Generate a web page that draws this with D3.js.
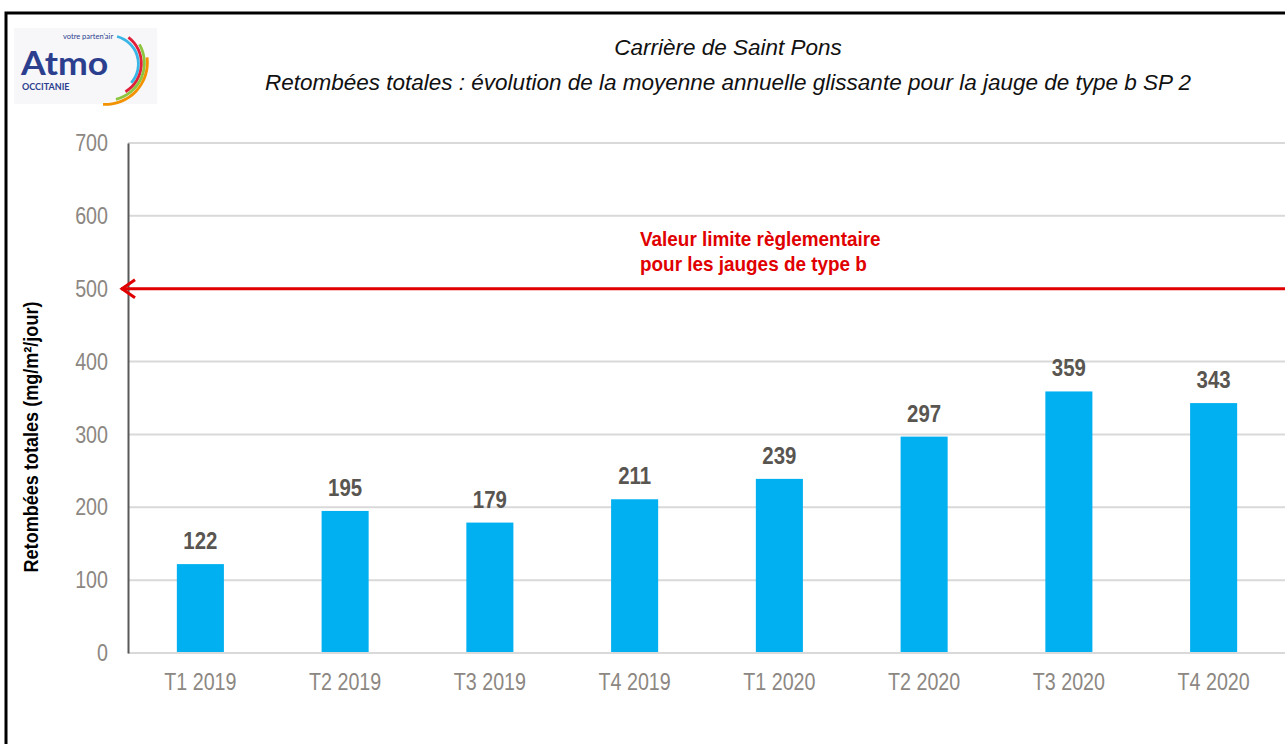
<!DOCTYPE html>
<html>
<head>
<meta charset="utf-8">
<script src="https://cdn.jsdelivr.net/npm/d3@7"></script>
<style>
  body { margin: 0; background: #fff; }
  svg { display: block; }
</style>
</head>
<body>
<svg id="chart"></svg>
<script>
// Retombées totales - bar chart with regulatory limit
const categories = ['T1 2019', 'T2 2019', 'T3 2019', 'T4 2019', 'T1 2020', 'T2 2020', 'T3 2020', 'T4 2020'];
const values = [122, 195, 179, 211, 239, 297, 359, 343];
const yTicks = [0, 100, 200, 300, 400, 500, 600, 700];
const limitValue = 500;
const titleLines = ['Carrière de Saint Pons',
  'Retombées totales : évolution de la moyenne annuelle glissante pour la jauge de type b SP 2'];
const limitLabel = ['Valeur limite règlementaire', 'pour les jauges de type b'];

const W = 1285, H = 744;
const margin = { top: 143, right: -1, bottom: 91, left: 128 };
const width = W - margin.left - margin.right;
const height = H - margin.top - margin.bottom;
const sans = '"Liberation Sans", Arial, sans-serif';

// squeeze text horizontally to mimic Arial Narrow
function narrow(sel, ratio) {
  sel.each(function () {
    const len = this.getComputedTextLength();
    d3.select(this).attr('textLength', len * ratio).attr('lengthAdjust', 'spacingAndGlyphs');
  });
}

const root = d3.select('#chart').attr('width', W).attr('height', H);

// outer frame
root.append('rect')
  .attr('x', 6).attr('y', 13)
  .attr('width', W + 10).attr('height', H + 10)
  .attr('fill', 'none').attr('stroke', '#000').attr('stroke-width', 3);

// logo
const logo = root.append('g').attr('transform', 'translate(14,28)');
logo.append('rect').attr('width', 143).attr('height', 76).attr('fill', '#f7f7f9');
logo.append('text').attr('x', 7).attr('y', 47)
  .style('font-family', 'Lato, "Noto Sans", sans-serif').style('font-weight', 'bold')
  .style('font-size', '33px').attr('fill', '#2c3f8f').text('Atmo')
  .call(narrow, 1.08);
logo.append('text').attr('x', 49).attr('y', 11)
  .style('font-family', 'Lato, sans-serif').style('font-size', '7.5px').attr('fill', '#2c3f8f')
  .text('votre parten\u2019air');
logo.append('text').attr('x', 8).attr('y', 62)
  .style('font-family', 'Lato, sans-serif').style('font-weight', 'bold')
  .style('font-size', '9px').attr('fill', '#2c3f8f').text('OCCITANIE');
const arcColors = ['#3ab6e6', '#e0203a', '#8cc63f', '#f39200'];
arcColors.forEach((c, i) => {
  const r = 27 + i * 4.5;
  logo.append('path')
    .attr('transform', `translate(${96 - i * 1.5},${36 - i * 0.5})`)
    .attr('d', d3.arc().innerRadius(r).outerRadius(r + 2.8)
      .startAngle(0.25 + i * 0.4).endAngle(2.3 + i * 0.3)())
    .attr('fill', c);
});

// title
root.append('g').selectAll('text').data(titleLines).join('text')
  .attr('x', 728).attr('y', (d, i) => 55 + i * 35)
  .attr('text-anchor', 'middle')
  .style('font-family', sans)
  .style('font-style', 'italic').style('font-size', '22.5px').attr('fill', '#111')
  .text(d => d);

const svg = root.append('g').attr('transform', `translate(${margin.left},${margin.top})`);

const x = d3.scaleBand().domain(categories).range([0, width]).paddingInner(0.675).paddingOuter(0.3375);
const y = d3.scaleLinear().domain([0, 700]).range([height, 0]);

// gridlines
svg.append('g').selectAll('line').data(yTicks).join('line')
  .attr('x1', 0).attr('x2', width)
  .attr('y1', d => y(d)).attr('y2', d => y(d))
  .attr('stroke', '#d9d9d9').attr('stroke-width', 2);

// y axis
const yAxis = svg.append('g').call(d3.axisLeft(y).tickValues(yTicks).tickSize(0).tickPadding(20));
yAxis.select('.domain').attr('stroke', '#595959').attr('stroke-width', 2);
yAxis.selectAll('text').style('font-family', sans).style('font-size', '24px').attr('fill', '#8c8782')
  .call(narrow, 0.82);

// x axis
const xAxis = svg.append('g').attr('transform', `translate(0,${height})`)
  .call(d3.axisBottom(x).tickSize(0).tickPadding(20));
xAxis.select('.domain').remove();
xAxis.selectAll('text').style('font-family', sans).style('font-size', '24px').attr('fill', '#8c8782')
  .call(narrow, 0.82);

// bars
svg.append('g').selectAll('rect').data(values).join('rect')
  .attr('x', (d, i) => x(categories[i]))
  .attr('y', d => y(d))
  .attr('width', x.bandwidth())
  .attr('height', d => y(0) - y(d) - 1)
  .attr('fill', '#00b0f0');

// value labels
svg.append('g').selectAll('text').data(values).join('text')
  .attr('x', (d, i) => x(categories[i]) + x.bandwidth() / 2)
  .attr('y', d => y(d) - 15)
  .attr('text-anchor', 'middle')
  .style('font-family', sans).style('font-weight', 'bold').style('font-size', '24px')
  .attr('fill', '#595550')
  .text(d => d)
  .call(narrow, 0.85);

// limit line with arrow
const ly = y(limitValue);
svg.append('line')
  .attr('x1', -7).attr('x2', width).attr('y1', ly).attr('y2', ly)
  .attr('stroke', '#e00000').attr('stroke-width', 3);
svg.append('path')
  .attr('d', `M7,${ly - 9} L-6,${ly} L7,${ly + 9}`)
  .attr('fill', 'none').attr('stroke', '#e00000').attr('stroke-width', 3);
svg.append('g').selectAll('text').data(limitLabel).join('text')
  .attr('x', 640 - margin.left).attr('y', (d, i) => ly - 43 + i * 25)
  .style('font-family', sans).style('font-weight', 'bold').style('font-size', '21px')
  .attr('fill', '#e00000')
  .text(d => d)
  .call(narrow, 0.9);

// y axis title
root.append('text')
  .attr('transform', `translate(38,437) rotate(-90)`)
  .attr('text-anchor', 'middle')
  .style('font-family', sans).style('font-weight', 'bold').style('font-size', '21px').attr('fill', '#000')
  .text('Retombées totales (mg/m²/jour)')
  .call(narrow, 0.86);
</script>
</body>
</html>
